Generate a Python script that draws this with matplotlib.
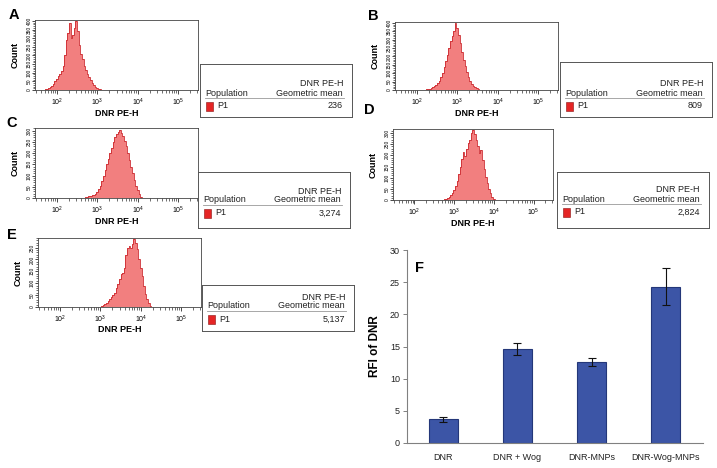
import numpy as np
import matplotlib
matplotlib.use('Agg')
import matplotlib.pyplot as plt
from matplotlib.ticker import LogLocator, MultipleLocator, NullFormatter

W, H = 717, 468
plt.rcParams['font.family'] = ['Liberation Sans', 'DejaVu Sans']
plt.rcParams['mathtext.fontset'] = 'custom'
plt.rcParams['mathtext.rm'] = 'Liberation Sans'

# histogram counts, log10 bins of width 0.04 starting at *_start
hist_step = 0.04
a_start = 1.72
a_counts = [5, 8, 12, 18, 25, 35, 50, 65, 80, 95, 110, 140, 200, 290, 330, 385, 300, 320,
            360, 400, 340, 260, 210, 180, 140, 115, 95, 75, 55, 40, 28, 18, 11, 6, 3, 1]
b_start = 2.24
b_counts = [3, 5, 8, 12, 17, 24, 32, 42, 55, 75, 100, 135, 170, 210, 250, 290, 320, 350,
            400, 370, 330, 280, 225, 180, 140, 105, 78, 55, 38, 25, 16, 9, 5, 2]
c_start = 2.68
c_counts = [2, 3, 5, 7, 9, 12, 15, 20, 28, 40, 55, 75, 100, 125, 150, 175, 200, 225, 250,
            270, 285, 295, 305, 290, 275, 255, 230, 200, 170, 140, 110, 80, 55, 35, 18, 6]
d_start = 2.76
d_counts = [3, 6, 10, 15, 22, 32, 45, 62, 85, 115, 150, 185, 215, 195, 230, 255, 270, 300,
            315, 295, 270, 240, 210, 225, 180, 140, 105, 75, 50, 30, 15, 5]
e_start = 3.00
e_counts = [2, 4, 8, 12, 18, 25, 33, 42, 52, 60, 80, 98, 118, 140, 145, 165, 220, 250, 255,
            250, 265, 285, 270, 245, 200, 165, 130, 90, 55, 35, 15, 4]
hist_ymax = [405, 405, 312, 318, 290]
geo_means = ['236', '809', '3,274', '2,824', '5,137']

# bar chart
groups = ['DNR', 'DNR + Wog', 'DNR-MNPs', 'DNR-Wog-MNPs']
rfi = [3.7, 14.6, 12.6, 24.3]
rfi_err = [0.4, 0.9, 0.65, 2.9]

fig = plt.figure(figsize=(W / 100, H / 100), dpi=100)


def px_rect(x0, y0, x1, y1):
    return [x0 / W, 1 - y1 / H, (x1 - x0) / W, (y1 - y0) / H]


def draw_hist(rect, start, counts, ymax):
    ax = fig.add_axes(px_rect(*rect))
    counts = np.array(counts, float)
    edges = 10 ** (start + hist_step * (np.arange(len(counts) + 1) - 0.5))
    ax.stairs(counts, edges, fill=True, color='#f27f7f', lw=0)
    ax.stairs(counts, edges, color='#cc2a30', lw=0.6)
    ax.set_xscale('log')
    ax.set_xlim(10 ** 1.46, 10 ** 5.49)
    ax.set_ylim(0, ymax)
    ax.set_xticks([1e2, 1e3, 1e4, 1e5])
    ax.set_xticklabels([r'$\mathregular{10^{%d}}$' % k for k in range(2, 6)])
    ax.xaxis.set_minor_locator(LogLocator(base=10, subs=range(2, 10), numticks=20))
    ax.xaxis.set_minor_formatter(NullFormatter())
    ax.yaxis.set_major_locator(MultipleLocator(50))
    ax.yaxis.set_minor_locator(MultipleLocator(10))
    ax.tick_params(axis='x', which='major', labelsize=5, length=3, width=0.5, pad=1.5)
    ax.tick_params(axis='x', which='minor', length=1.8, width=0.4)
    ax.tick_params(axis='y', which='major', labelsize=3.5, length=2, width=0.5, pad=0.5,
                   labelrotation=90)
    ax.tick_params(axis='y', which='minor', length=1.2, width=0.4)
    for lab in ax.get_yticklabels():
        lab.set_va('center')
    for s in ax.spines.values():
        s.set_color('#444444')
        s.set_linewidth(0.6)
    x0, y0, x1, y1 = rect
    fig.text((x0 - 20) / W, 1 - (y0 + y1) / 2 / H, 'Count', rotation=90, fontsize=6.5,
             fontweight='bold', ha='center', va='center')
    fig.text((x0 + x1) / 2 / W, 1 - (y1 + 23) / H, 'DNR PE-H', fontsize=6.5,
             fontweight='bold', ha='center', va='center')
    return ax


def draw_box(rect, p1y, value):
    x0, y0, x1, y1 = rect
    ax = fig.add_axes(px_rect(x0, y0, x1, y1))
    ax.set_xlim(x0, x1)
    ax.set_ylim(y1, y0)
    ax.set_xticks([])
    ax.set_yticks([])
    for s in ax.spines.values():
        s.set_color('#555555')
        s.set_linewidth(0.7)
    fs = 6.5
    ax.text(x1 - 9, p1y - 22, 'DNR PE-H', fontsize=fs, ha='right', va='center', color='#222')
    ax.text(x0 + 5, p1y - 13, 'Population', fontsize=fs, ha='left', va='center', color='#222')
    ax.text(x1 - 9, p1y - 13, 'Geometric mean', fontsize=fs, ha='right', va='center', color='#222')
    ax.plot([x0 + 5, x1 - 8], [p1y - 8, p1y - 8], color='#999999', lw=0.6)
    ax.add_patch(plt.Rectangle((x0 + 6, p1y - 4.5), 7, 9, facecolor='#e52525',
                               edgecolor='#8a1010', lw=0.4))
    ax.text(x0 + 17, p1y, 'P1', fontsize=fs, ha='left', va='center', color='#222')
    ax.text(x1 - 9, p1y, value, fontsize=fs, ha='right', va='center', color='#222')


hist_rects = [(35, 20, 198, 90), (395, 22, 558, 90), (35, 128, 198, 198),
              (393, 129, 553, 200), (38, 238, 201, 307)]
box_rects = [(200, 64, 352, 117, 106), (560, 62, 712, 117, 106), (198, 172, 350, 228, 213),
             (557, 172, 709, 228, 212), (202, 285, 354, 331, 319)]
starts = [a_start, b_start, c_start, d_start, e_start]
all_counts = [a_counts, b_counts, c_counts, d_counts, e_counts]

for i in range(5):
    draw_hist(hist_rects[i], starts[i], all_counts[i], hist_ymax[i])
    bx = box_rects[i]
    draw_box(bx[:4], bx[4], geo_means[i])

# bar chart F
ax = fig.add_axes(px_rect(407, 250, 703, 443))
xpos = np.arange(len(groups))
ax.bar(xpos, rfi, width=0.39, color='#3c55a6', edgecolor='#243779', lw=0.8)
ax.errorbar(xpos, rfi, yerr=rfi_err, fmt='none', ecolor='#111111', elinewidth=0.8,
            capsize=3, capthick=0.8)
ax.set_xlim(-0.485, 3.5)
ax.set_ylim(0, 30)
ax.set_yticks(range(0, 31, 5))
ax.set_xticks(xpos)
ax.set_xticklabels(groups)
ax.tick_params(axis='x', length=0, labelsize=6.5, pad=7, labelcolor='#222')
ax.tick_params(axis='y', length=3, width=0.7, color='#808080', labelsize=6.5, pad=2,
               labelcolor='#222')
for s in ['top', 'right']:
    ax.spines[s].set_visible(False)
for s in ['left', 'bottom']:
    ax.spines[s].set_color('#808080')
    ax.spines[s].set_linewidth(0.8)
fig.text(375 / W, 1 - 346 / H, 'RFI of DNR', rotation=90, fontsize=8.5, fontweight='bold',
         ha='center', va='center')

# panel letters
letters = ['A', 'B', 'C', 'D', 'E', 'F']
letter_pos = [(14, 15), (373, 16), (12, 123), (369, 110), (12, 235), (419, 268)]
for l, (lx, ly) in zip(letters, letter_pos):
    fig.text(lx / W, 1 - ly / H, l, fontsize=10.5, fontweight='bold', ha='center', va='center')

fig.savefig('out.png', dpi=100)
